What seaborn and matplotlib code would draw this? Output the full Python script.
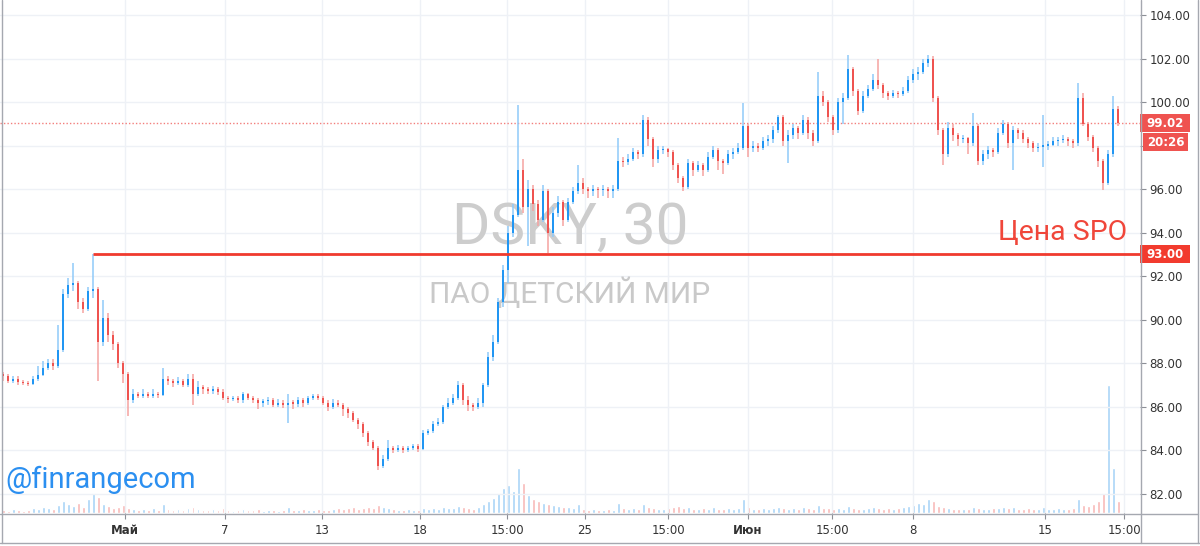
import numpy as np
import pandas as pd
import matplotlib
matplotlib.use("Agg")
import matplotlib.pyplot as plt
import seaborn as sns
from matplotlib.lines import Line2D
from matplotlib.patches import Rectangle
from matplotlib.transforms import Bbox, TransformedBbox

# ---------------- data (30-min candles, DSKY) ----------------
first_open = 87.5
closes = [
    87.4, 87.2, 87.3, 87.15, 87.1, 87.05, 87.3, 87.45, 87.8, 88.0,
    87.9, 88.6, 91.2, 91.6, 91.7, 90.8, 90.5, 91.3, 91.4, 89.0,
    90.1, 89.3, 88.9, 88.0, 87.5, 86.3, 86.6, 86.5, 86.6, 86.5,
    86.6, 86.55, 87.3, 87.2, 87.1, 87.2, 87.0, 87.3, 86.6, 86.9,
    86.8, 86.75, 86.8, 86.7, 86.4, 86.35, 86.4, 86.3, 86.6, 86.4,
    86.3, 86.2, 86.25, 86.3, 86.1, 86.2, 86.1, 86.2, 86.15, 86.3,
    86.2, 86.4, 86.5, 86.4, 86.2, 86.0, 86.2, 86.1, 85.9, 85.7,
    85.4, 85.2, 84.8, 84.4, 84.1, 83.3, 83.6, 84.1, 84.0, 84.1,
    84.0, 84.1, 84.2, 84.05, 84.8, 84.9, 85.2, 85.3, 86.0, 86.2,
    86.4, 87.0, 86.3, 86.1, 86.0, 86.2, 87.0, 88.3, 89.0, 90.8,
    92.3, 94.0, 94.8, 96.9, 95.2, 96.0, 95.3, 94.6, 95.9, 94.0,
    94.9, 95.4, 94.6, 95.4, 95.9, 96.3, 96.0, 95.9, 96.0, 95.95,
    96.0, 95.9, 96.0, 97.3, 97.25, 97.4, 97.7, 97.6, 99.2, 98.3,
    97.4, 97.8, 97.85, 97.7, 97.1, 96.5, 96.1, 97.2, 96.9, 97.1,
    96.9, 97.5, 97.8, 97.3, 97.2, 97.6, 97.7, 97.9, 98.9, 97.9,
    98.0, 97.9, 98.2, 98.3, 98.7, 99.3, 98.2, 98.5, 98.8, 98.6,
    99.2, 98.6, 98.2, 100.3, 100.0, 99.3, 98.7, 100.0, 100.2, 101.5,
    100.5, 99.6, 100.3, 100.6, 101.0, 100.8, 100.4, 100.3, 100.4, 100.35,
    100.5, 101.0, 101.3, 101.4, 101.8, 102.0, 100.2, 98.7, 97.6, 98.8,
    98.5, 98.3, 98.35, 98.1, 98.9, 97.3, 97.6, 97.8, 97.7, 98.6,
    99.0, 98.1, 98.7, 98.6, 98.3, 98.1, 97.9, 97.95, 98.0, 98.05,
    98.2, 98.25, 98.3, 98.2, 98.1, 100.2, 99.0, 98.4, 97.9, 97.3,
    96.3, 97.6, 99.7, 99.02,
]
highs = [
    87.6, 87.5, 87.4, 87.4, 87.25, 87.2, 87.4, 87.9, 88.1, 88.2,
    88.2, 89.76, 91.4, 91.9, 92.6, 91.8, 91.0, 91.5, 93.0, 91.5,
    90.9, 90.3, 89.5, 89.0, 88.1, 87.6, 86.8, 86.7, 86.8, 86.7,
    86.8, 86.7, 87.8, 87.4, 87.3, 87.35, 87.3, 87.5, 87.5, 87.2,
    87.0, 86.9, 86.95, 86.9, 86.8, 86.5, 86.5, 86.5, 86.7, 86.65,
    86.5, 86.4, 86.35, 86.45, 86.4, 86.35, 86.3, 86.6, 86.3, 86.45,
    86.4, 86.5, 86.6, 86.6, 86.5, 86.3, 86.35, 86.3, 86.2, 86.0,
    85.8, 85.5, 85.3, 84.9, 84.5, 84.2, 83.8, 84.5, 84.2, 84.25,
    84.2, 84.2, 84.3, 84.3, 84.95, 85.0, 85.35, 85.5, 86.1, 86.4,
    86.6, 87.2, 87.1, 86.5, 86.2, 86.4, 87.1, 88.5, 89.3, 91.0,
    92.5, 94.3, 95.3, 99.87, 97.4, 96.4, 96.2, 95.5, 96.2, 96.0,
    95.2, 95.7, 95.5, 95.6, 96.1, 97.1, 96.5, 96.1, 96.2, 96.1,
    96.2, 96.1, 96.2, 98.35, 97.5, 97.6, 97.9, 97.8, 99.4, 99.3,
    98.4, 98.0, 98.0, 97.9, 97.8, 97.2, 96.6, 97.4, 97.3, 97.3,
    97.2, 97.7, 98.0, 97.9, 97.4, 97.8, 97.9, 98.1, 99.95, 99.0,
    98.2, 98.1, 98.4, 98.5, 98.9, 99.4, 99.4, 98.7, 99.0, 98.9,
    99.4, 99.3, 98.7, 101.4, 100.5, 100.1, 99.4, 100.2, 100.4, 102.15,
    101.6, 100.6, 100.5, 100.8, 101.3, 102.0, 100.9, 100.5, 100.55, 100.5,
    100.7, 101.2, 101.5, 101.6, 102.0, 102.15, 102.1, 100.3, 98.8, 99.1,
    99.0, 98.6, 98.5, 98.4, 99.5, 99.0, 97.8, 98.0, 97.9, 98.8,
    99.2, 99.1, 98.9, 98.8, 98.7, 98.4, 98.2, 98.1, 99.4, 98.2,
    98.4, 98.4, 98.5, 98.4, 98.3, 100.9, 100.4, 99.1, 98.5, 98.0,
    97.4, 97.8, 100.3, 99.8,
]
lows = [
    87.2, 87.1, 87.1, 87.0, 87.0, 86.95, 87.0, 87.2, 87.4, 87.7,
    87.7, 87.8, 88.5, 91.0, 91.3, 90.5, 90.3, 90.4, 91.0, 87.2,
    88.8, 89.0, 88.6, 87.8, 87.1, 85.6, 86.2, 86.4, 86.4, 86.4,
    86.4, 86.4, 86.5, 87.0, 86.9, 87.0, 86.9, 86.9, 86.1, 86.5,
    86.6, 86.6, 86.6, 86.55, 86.3, 86.2, 86.25, 86.2, 86.2, 86.3,
    86.2, 85.9, 86.0, 86.1, 86.0, 86.0, 85.95, 85.25, 85.9, 86.0,
    86.0, 86.1, 86.3, 86.3, 86.1, 85.8, 85.9, 86.0, 85.6, 85.5,
    85.3, 85.0, 84.6, 84.2, 84.0, 83.1, 83.2, 83.5, 83.9, 83.95,
    83.9, 83.95, 84.0, 83.95, 84.0, 84.7, 84.8, 85.1, 85.2, 85.9,
    86.1, 86.3, 86.1, 85.8, 85.8, 85.9, 86.0, 86.9, 88.1, 88.9,
    90.6, 91.7, 93.8, 94.7, 94.9, 93.4, 95.0, 94.3, 94.5, 93.05,
    93.8, 94.7, 94.3, 94.5, 95.3, 95.8, 95.8, 95.6, 95.7, 95.6,
    95.7, 95.6, 95.6, 95.9, 97.0, 97.1, 97.3, 97.4, 97.5, 98.0,
    97.0, 97.2, 97.6, 97.5, 96.9, 96.3, 95.9, 96.0, 96.6, 96.8,
    96.6, 96.8, 97.4, 96.9, 96.7, 97.1, 97.4, 97.6, 97.8, 97.5,
    97.7, 97.7, 97.8, 98.0, 98.1, 98.6, 98.0, 97.2, 98.3, 98.3,
    98.5, 98.3, 98.0, 98.1, 99.8, 99.1, 98.5, 98.6, 99.0, 100.1,
    100.3, 99.4, 99.5, 100.2, 100.5, 100.6, 100.2, 100.1, 100.2, 100.2,
    100.3, 100.4, 100.9, 101.0, 101.3, 101.6, 100.0, 98.5, 97.1, 97.5,
    98.2, 98.0, 98.1, 97.6, 98.0, 97.1, 97.1, 97.4, 97.5, 97.6,
    98.5, 97.9, 96.9, 98.3, 98.1, 97.9, 97.7, 97.7, 97.0, 97.8,
    98.0, 98.0, 98.1, 98.0, 97.9, 98.0, 98.9, 98.2, 97.7, 97.0,
    95.96, 96.2, 97.5, 98.9,
]
volumes = [
    3, 2, 4, 3, 2, 3, 5, 4, 6, 5,
    4, 8, 12, 9, 7, 10, 6, 14, 20, 16,
    9, 7, 5, 6, 8, 5, 4, 3, 4, 3,
    5, 3, 9, 4, 3, 4, 3, 5, 6, 4,
    3, 3, 4, 3, 5, 3, 2, 3, 4, 3,
    3, 4, 2, 3, 3, 2, 3, 6, 3, 3,
    4, 3, 3, 4, 3, 3, 4, 5, 4, 5,
    6, 4, 5, 6, 5, 8, 6, 5, 4, 3,
    3, 4, 3, 3, 5, 4, 5, 4, 6, 5,
    5, 7, 6, 5, 4, 6, 9, 12, 15, 20,
    25, 28, 22, 45, 30, 18, 14, 12, 10, 9,
    8, 7, 6, 6, 5, 9, 4, 3, 4, 3,
    3, 4, 3, 10, 5, 4, 5, 4, 9, 6,
    5, 4, 4, 5, 6, 7, 5, 6, 4, 4,
    5, 4, 6, 4, 4, 5, 4, 5, 14, 6,
    4, 4, 5, 4, 5, 6, 5, 4, 5, 4,
    6, 5, 4, 8, 5, 5, 4, 5, 4, 7,
    5, 4, 4, 5, 6, 5, 4, 5, 4, 5,
    6, 7, 8, 10, 9, 14, 12, 7, 6, 5,
    4, 4, 4, 4, 6, 5, 4, 4, 5, 5,
    6, 5, 6, 4, 4, 5, 4, 4, 6, 4,
    4, 5, 4, 4, 5, 14, 8, 7, 9, 12,
    20, 128, 45, 12,
]
tick_pos = [24.4, 44.4, 63.8, 83.4, 100.8, 116.4, 133, 149, 165.8, 182, 208.4, 224.2]
tick_labels = ["Май", "7", "13", "18", "15:00", "25", "15:00", "Июн", "15:00", "8", "15", "15:00"]
price_ticks = [82, 84, 86, 88, 90, 92, 94, 96, 98, 100, 102, 104]
last_price = 99.02
time_left = "20:26"
spo_price = 93.00
spo_start = 18
spo_label = "Цена SPO"
title_main = "DSKY, 30"
title_sub = "ПАО ДЕТСКИЙ МИР"
brand = "@finrangecom"

# ---------------- frame ----------------
n = len(closes)
opens = [first_open] + closes[:-1]
df = pd.DataFrame({"i": np.arange(n), "open": opens, "close": closes,
                   "high": highs, "low": lows, "volume": volumes})
df["dir"] = np.where(df["close"] >= df["open"], "up", "down")

sns.set_theme(style="white")
plt.rcParams["font.family"] = ["DejaVu Sans"]

W, H = 1200, 546
fig = plt.figure(figsize=(W / 100, H / 100), dpi=100)
fig.patch.set_facecolor("white")
ax = fig.add_axes([0, 33 / H, 1140 / W, 513 / H])
axv = ax.twinx()
axv.set_zorder(ax.get_zorder() - 1)
ax.patch.set_visible(False)
axv.patch.set_facecolor("white")

UP, DN = "#2196f3", "#ef5350"
UPW, DNW = "#90caf9", "#f5a3a1"

# volume bars (seaborn)
sns.barplot(data=df, x="i", y="volume", hue="dir", palette={"up": "#a9d4f7", "down": "#f8b9b7"},
            native_scale=True, dodge=False, legend=False, errorbar=None,
            width=0.6, saturation=1, ax=axv)
axv.set_ylim(0, max(volumes) * 4.0)
axv.axis("off")

# candles
for d, body_c, wick_c in (("up", UP, UPW), ("down", DN, DNW)):
    s = df[df["dir"] == d]
    ax.vlines(s["i"], s["low"], s["high"], color=wick_c, lw=1.1, zorder=3)
    lo = np.minimum(s["open"], s["close"])
    hgt = np.maximum(np.abs(s["close"] - s["open"]), 0.06)
    ax.bar(s["i"], hgt, bottom=lo, width=0.55, color=body_c, linewidth=0, zorder=4)

ymin, ymax = 81.125, 104.69
ax.set_ylim(ymin, ymax)
ax.set_xlim(-0.6, 227.4)
ppu = 513 / (ymax - ymin)

# grid & ticks (98.00 label is hidden under the countdown box)
ax.set_yticks(price_ticks)
ax.set_yticklabels(["" if p == 98 else f"{p:.2f}" for p in price_ticks])
ax.set_xticks(tick_pos)
ax.set_xticklabels(tick_labels)
ax.grid(True, color="#eef1f6", lw=1)
ax.set_axisbelow(True)
ax.yaxis.tick_right()
ax.tick_params(axis="y", which="both", right=True, left=False, length=4, width=0.8,
               color="#8c8f96", labelsize=8.5, labelcolor="#333333", pad=3)
ax.tick_params(axis="x", which="both", bottom=True, length=4, width=0.8,
               color="#8c8f96", labelsize=8.5, labelcolor="#333333", pad=4)
for lbl in ax.get_xticklabels():
    if lbl.get_text() in ("Май", "Июн"):
        lbl.set_fontweight("bold")
    lbl.set_clip_on(True)
    lbl.set_clip_box(TransformedBbox(Bbox([[0, 0], [1140 / W, 1]]), fig.transFigure))
for sp in ax.spines.values():
    sp.set_visible(False)
ax.set_xlabel("")
ax.set_ylabel("")

# watermark
ax.text(0.5, 0.556, title_main, transform=ax.transAxes, ha="center", va="center",
        fontsize=42, color="#cdcdcd", family=["Roboto", "DejaVu Sans"], zorder=1)
ax.text(0.5, 0.429, title_sub, transform=ax.transAxes, ha="center", va="center",
        fontsize=21.5, color="#c9c9c9", family=["Roboto", "DejaVu Sans"], zorder=1)

# last price dotted line
ax.axhline(last_price, color=DN, lw=1, ls=(0, (1, 1.5)), alpha=0.75, zorder=2)

# SPO line
ax.hlines(spo_price, spo_start, 227.4, color="#f03a2e", lw=2, zorder=5)
ax.annotate(spo_label, xy=(1127 / 1140, spo_price), xycoords=ax.get_yaxis_transform(),
            xytext=(0, 6), textcoords="offset points", ha="right", va="bottom",
            fontsize=20.5, color="#f0463a", family=["Roboto", "DejaVu Sans"], zorder=6)

# brand
ax.text(5 / 1140, 0.064, brand, transform=ax.transAxes, ha="left", va="center",
        fontsize=21, color="#2b8ff0", family=["Roboto", "DejaVu Sans"], zorder=6)

# price labels on right scale
yt = ax.get_yaxis_transform()
def price_box(y, text, color, x0px=0, wpx=50, hpx=18):
    ax.add_patch(Rectangle((1 + x0px / 1140, y - hpx / 2 / ppu), wpx / 1140, hpx / ppu,
                           transform=yt, facecolor=color, edgecolor="none", clip_on=False, zorder=7))
    ax.text(1 + (x0px + wpx / 2) / 1140, y, text, transform=yt, ha="center", va="center",
            color="white", fontsize=8.5, fontweight="bold", clip_on=False, zorder=8)

price_box(last_price, f"{last_price:.2f}", "#ef5350")
price_box(last_price - 19 / ppu, time_left, "#ef5350", x0px=3, wpx=45)
price_box(spo_price, f"{spo_price:.2f}", "#f23b2e")

# frame lines (figure pixels)
lc = "#a5a8b0"
def fline(x0, y0, x1, y1):
    fig.add_artist(Line2D([x0 / W, x1 / W], [1 - y0 / H, 1 - y1 / H], color=lc, lw=1))
fline(1.5, 0, 1.5, 542.5)
fline(1197.5, 0, 1197.5, 542.5)
fline(0, 542.5, 1200, 542.5)
fline(0, 513.5, 1197.5, 513.5)
fline(1140.5, 0, 1140.5, 542.5)

fig.savefig("out.png", dpi=100, facecolor="white")
